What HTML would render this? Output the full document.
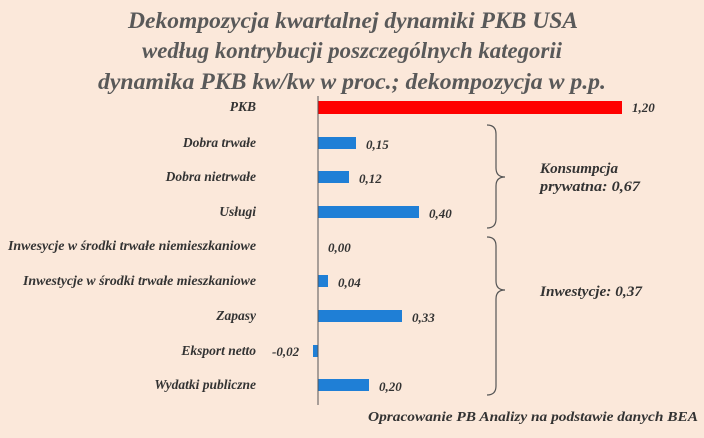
<!DOCTYPE html>
<html><head><meta charset="utf-8"><style>
html,body{margin:0;padding:0}
body{width:704px;height:433px;background:#fbe8da;overflow:hidden;font-family:"Liberation Serif",serif}
</style></head><body>
<svg width="704" height="433" xmlns="http://www.w3.org/2000/svg" font-family="Liberation Serif, serif">
<rect width="704" height="433" fill="#fbe8da"/>
<g fill="#595959" font-weight="bold" font-style="italic" font-size="23" text-anchor="middle">
<text x="353" y="28" textLength="450" lengthAdjust="spacingAndGlyphs">Dekompozycja kwartalnej dynamiki PKB USA</text>
<text x="352" y="58" textLength="420" lengthAdjust="spacingAndGlyphs">według kontrybucji poszczególnych kategorii</text>
<text x="352" y="89" textLength="508" lengthAdjust="spacingAndGlyphs">dynamika PKB kw/kw w proc.; dekompozycja w p.p.</text>
</g>
<rect x="318" y="101" width="304" height="13" fill="#ff0000"/>
<g fill="#1f7fd6">
<rect x="318" y="137" width="38" height="12"/>
<rect x="318" y="171" width="31" height="12"/>
<rect x="318" y="206" width="101" height="12"/>
<rect x="318" y="275" width="10" height="12"/>
<rect x="318" y="310" width="84" height="12"/>
<rect x="313" y="345" width="5" height="12"/>
<rect x="318" y="379" width="51" height="12"/>
</g>
<line x1="318" y1="96" x2="318" y2="405" stroke="#555" stroke-width="1"/>
<g font-size="13.5" font-weight="bold" font-style="italic" fill="#333" text-anchor="end">
<text x="256" y="111">PKB</text>
<text x="256" y="147">Dobra trwałe</text>
<text x="256" y="181">Dobra nietrwałe</text>
<text x="256" y="216">Usługi</text>
<text x="256" y="250" textLength="248" lengthAdjust="spacingAndGlyphs">Inwesycje w środki trwałe niemieszkaniowe</text>
<text x="256" y="285" textLength="233" lengthAdjust="spacingAndGlyphs">Inwestycje w środki trwałe mieszkaniowe</text>
<text x="256" y="320">Zapasy</text>
<text x="256" y="355">Eksport netto</text>
<text x="256" y="389">Wydatki publiczne</text>
</g>
<g font-size="13" font-weight="bold" font-style="italic" fill="#333">
<text x="632" y="112">1,20</text>
<text x="366" y="149">0,15</text>
<text x="359" y="183">0,12</text>
<text x="429" y="218">0,40</text>
<text x="328" y="252">0,00</text>
<text x="338" y="287">0,04</text>
<text x="412" y="322">0,33</text>
<text x="272" y="356">-0,02</text>
<text x="379" y="391">0,20</text>
</g>
<g fill="none" stroke="#555" stroke-width="1.2">
<path d="M487,125 Q496,125 496,134 L496,168 Q496,177 505,177 Q496,177 496,186 L496,219 Q496,228 487,228"/>
<path d="M487,237 Q496,237 496,246 L496,281 Q496,290 505,290 Q496,290 496,299 L496,386 Q496,395 487,395"/>
</g>
<g font-size="14.5" font-weight="bold" font-style="italic" fill="#333">
<text x="540" y="173" textLength="78" lengthAdjust="spacingAndGlyphs">Konsumpcja</text>
<text x="540" y="191" textLength="100" lengthAdjust="spacingAndGlyphs">prywatna: 0,67</text>
<text x="540" y="296" textLength="102" lengthAdjust="spacingAndGlyphs">Inwestycje: 0,37</text>
<text x="698" y="421" text-anchor="end" font-size="14" textLength="330" lengthAdjust="spacingAndGlyphs">Opracowanie PB Analizy na podstawie danych BEA</text>
</g>
</svg>
</body></html>
